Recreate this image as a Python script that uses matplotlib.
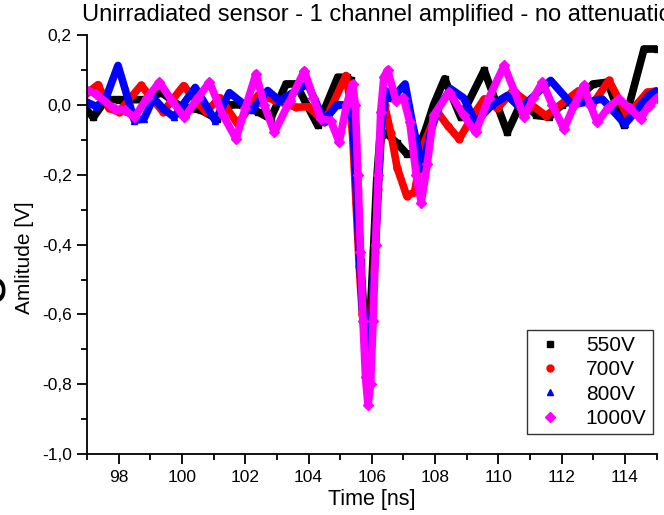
import numpy as np
import matplotlib.pyplot as plt
from matplotlib.ticker import MultipleLocator, FuncFormatter
from matplotlib.lines import Line2D

plt.rcParams['font.family'] = ['Liberation Sans', 'DejaVu Sans']

# 550V
t_550 = [96.95, 97.2, 97.6, 98.0, 98.8, 99.35, 99.97, 100.6, 101.1, 101.5, 101.9,
         102.4, 102.8, 103.29, 103.6, 104.29, 104.92, 105.2, 105.35,
         105.45, 105.55, 105.65, 105.75, 105.85, 105.95, 106.05, 106.15, 106.25,
         106.45, 106.8, 107.1, 107.4, 107.7, 107.95, 108.3, 108.81, 109.55,
         110.28, 110.75, 111.2, 111.6, 112.0, 112.5, 113.0, 113.45, 113.96,
         114.6, 115.0]
v_550 = [-0.01, -0.036, 0.015, 0.015, 0.015, 0.035, -0.005, -0.015, -0.04, 0.0, 0.0,
         -0.02, -0.04, 0.06, 0.06, -0.059, 0.079, 0.079, 0.07,
         -0.05, -0.25, -0.45, -0.6, -0.66, -0.6, -0.42, -0.22, -0.1,
         -0.08, -0.11, -0.14, -0.14, -0.07, 0.0, 0.075, -0.036, 0.099,
         -0.079, 0.013, -0.03, -0.035, 0.0, 0.02, 0.06, 0.065, -0.058,
         0.16, 0.16]

# 700V
t_700 = [96.95, 97.35, 97.7, 98.0, 98.71, 99.4, 100.05, 100.75, 101.2, 101.76,
         102.4, 102.9, 103.6, 104.0, 104.5, 105.18, 105.3,
         105.4, 105.5, 105.6, 105.7, 105.8, 105.9, 106.0, 106.1, 106.2, 106.3, 106.4,
         106.6, 106.8, 107.1, 107.35, 107.6, 108.07, 108.4, 108.76, 109.2, 109.55,
         109.97, 110.45, 111.5, 112.54, 112.96, 113.49, 114.07, 114.7, 115.0]
v_700 = [0.03, 0.058, -0.01, -0.02, 0.056, -0.02, 0.055, -0.02, 0.02, -0.055,
         0.027, 0.015, -0.007, -0.005, -0.05, 0.084, 0.02,
         -0.1, -0.28, -0.46, -0.6, -0.68, -0.70, -0.6, -0.42, -0.24, -0.08, 0.0,
         -0.08, -0.18, -0.26, -0.25, -0.12, -0.02, -0.06, -0.098, -0.03, 0.017,
         -0.01, 0.04, -0.031, 0.041, 0.0, 0.07, -0.03, 0.036, 0.04]

# 800V
t_800 = [96.95, 97.3, 97.6, 97.98, 98.5, 98.8, 99.1, 99.4, 99.75, 100.42, 101.05,
         101.5, 102.2, 102.71, 103.08, 103.97, 104.5, 104.9, 105.25,
         105.4, 105.5, 105.6, 105.7, 105.8, 105.9, 106.0, 106.1, 106.2, 106.3,
         106.45, 106.6, 106.8, 107.05, 107.3, 107.6, 107.85, 108.1, 108.49, 108.9,
         109.28, 109.8, 110.28, 110.7, 111.65, 112.33, 113.28, 114.0, 114.75, 115.0]
v_800 = [0.01, -0.005, 0.02, 0.113, -0.045, -0.04, 0.02, -0.01, -0.035, 0.05, -0.045,
         0.035, -0.016, 0.041, 0.012, 0.06, -0.045, 0.0, 0.0,
         -0.05, -0.22, -0.42, -0.58, -0.68, -0.72, -0.62, -0.44, -0.24, -0.06,
         0.04, 0.02, 0.035, 0.06, -0.06, -0.18, -0.08, -0.01, 0.046, 0.02,
         -0.05, 0.0, 0.027, -0.01, 0.07, 0.0, 0.017, -0.055, 0.027, 0.04]

# 1000V
t_1000 = [96.95, 97.3, 97.87, 98.2, 98.5, 98.9, 99.29, 99.7, 100.08, 100.5, 100.87,
          101.3, 101.71, 102.0, 102.34, 102.6, 102.92, 103.4, 103.87, 104.15,
          104.39, 104.7, 104.97, 105.2, 105.39,
          105.48, 105.56, 105.64, 105.72, 105.80, 105.88, 105.96, 106.04, 106.12,
          106.20, 106.28, 106.38, 106.50, 106.77, 107.0, 107.2, 107.4, 107.56,
          107.75, 107.95, 108.45, 108.9, 109.28, 109.7, 110.18, 110.5, 110.81,
          111.1, 111.39, 111.7, 112.07, 112.4, 112.70, 112.9, 113.12, 113.45,
          113.80, 114.15, 114.49, 114.75, 115.0]
v_1000 = [0.045, 0.03, -0.012, -0.015, -0.036, 0.02, 0.065, 0.01, -0.036, 0.02, 0.065,
          -0.03, -0.097, -0.01, 0.089, 0.0, -0.079, 0.01, 0.098, 0.02,
          -0.040, -0.045, -0.107, 0.0, 0.060,
          0.0, -0.2, -0.42, -0.62, -0.78, -0.86, -0.80, -0.62, -0.40,
          -0.2, -0.02, 0.08, 0.10, 0.01, 0.02, -0.05, -0.2, -0.28,
          -0.17, -0.03, 0.037, -0.03, -0.078, 0.02, 0.113, 0.04, -0.035,
          0.02, 0.065, 0.0, -0.069, 0.0, 0.056, 0.0, -0.050, -0.01,
          0.017, -0.01, -0.040, -0.002, 0.02]

series = [
    (t_550, v_550, 'black', 's', '550V'),
    (t_700, v_700, 'red', 'o', '700V'),
    (t_800, v_800, 'blue', '^', '800V'),
    (t_1000, v_1000, 'magenta', 'D', '1000V'),
]

fig = plt.figure(figsize=(6.64, 5.15), dpi=100)
ax = fig.add_axes([0.131, 0.118, 0.858, 0.814])

handles = []
for t, v, c, m, lab in series:
    ax.plot(t, v, color=c, lw=5.5, marker=m, ms=5, mec=c, solid_joinstyle='round',
            solid_capstyle='round')
    handles.append(Line2D([], [], ls='none', marker=m, color=c, ms=5, label=lab))

ax.set_xlim(97, 115)
ax.set_ylim(-1.0, 0.2)
ax.xaxis.set_major_locator(MultipleLocator(2))
ax.xaxis.set_minor_locator(MultipleLocator(1))
ax.yaxis.set_major_locator(MultipleLocator(0.2))
ax.yaxis.set_minor_locator(MultipleLocator(0.1))

def comma(v, pos):
    s = '%.1f' % v
    if s == '-0.0':
        s = '0.0'
    return s.replace('.', ',')

ax.yaxis.set_major_formatter(FuncFormatter(comma))
ax.spines['top'].set_visible(False)
ax.spines['right'].set_visible(False)
for s in ['left', 'bottom']:
    ax.spines[s].set_linewidth(1.3)
ax.tick_params(which='major', direction='out', length=7, width=1.3, labelsize=12.5, pad=4)
ax.tick_params(which='minor', direction='out', length=4, width=1.3)

leg = ax.legend(handles=handles, loc='lower right', bbox_to_anchor=(0.993, 0.048),
                fontsize=15, frameon=True, fancybox=False, handletextpad=0.9,
                labelspacing=0.25, borderpad=0.3, handlelength=1.6, borderaxespad=0)
leg.get_frame().set_edgecolor('black')
leg.get_frame().set_linewidth(1.0)

fig.text(82/664, 1 - 15/515, 'Unirradiated sensor - 1 channel amplified - no attenuation',
         ha='left', va='center', fontsize=17)
fig.text(372/664, 1 - 499/515, 'Time [ns]', ha='center', va='center', fontsize=15.5)
fig.text(25/664, 1 - 258/515, 'Amlitude [V]', ha='center', va='center', rotation=90,
         fontsize=15)
# partial glyph cut off at the left edge, as in the source image
fig.text(16/664, 1 - 288/515, 'e', ha='right', va='center', rotation=90, fontsize=40)

fig.savefig('out.png', dpi=100)
